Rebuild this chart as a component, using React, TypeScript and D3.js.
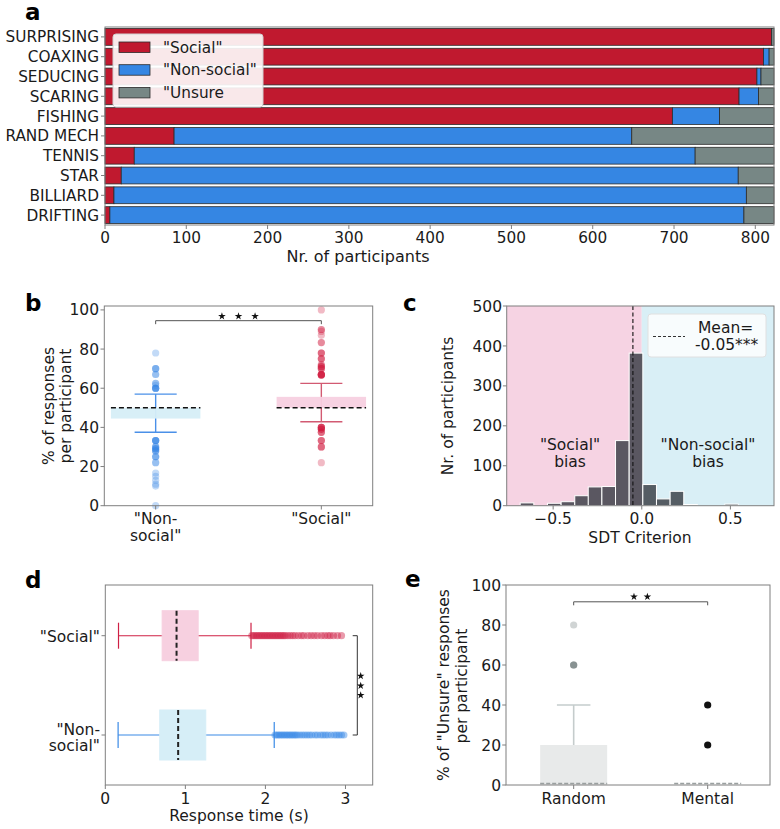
import React from "react";
import * as d3 from "d3";

// ---------- Panel a data ----------
const scenarios = ["SURPRISING", "COAXING", "SEDUCING", "SCARING", "FISHING", "RAND MECH", "TENNIS", "STAR", "BILLIARD", "DRIFTING"];
const socialCounts = [820, 810, 802, 780, 698, 85, 36, 20, 11, 6];
const nonSocialCounts = [0, 7, 5, 24, 58, 563, 690, 759, 778, 780];
const unsureCounts = [3, 6, 16, 19, 67, 175, 97, 44, 34, 37];
const aTicks = [0, 100, 200, 300, 400, 500, 600, 700, 800];

// ---------- Panel b data ----------
const bCategories = ['"Non-social"', '"Social"'];
const bQ1 = [44.5, 50];
const bMedian = [50, 50];
const bQ3 = [50, 55.6];
const bWhiskLo = [37.5, 42.9];
const bWhiskHi = [57, 62.5];
const bOutNonSocialVals = [78, 70, 67, 62.5, 61.5, 60, 33.3, 30, 29, 28, 25, 22, 16.7, 15, 13, 11, 10, 0];
const bOutNonSocialN = [1, 3, 2, 2, 1, 5, 5, 3, 3, 3, 3, 2, 1, 1, 1, 1, 1, 1];
const bOutSocialVals = [100, 90, 89, 87, 83.3, 78, 75, 72, 71, 70, 67, 66.7, 40, 39, 37.5, 33.3, 30, 22];
const bOutSocialN = [1, 2, 1, 1, 2, 3, 3, 2, 3, 3, 4, 4, 5, 3, 3, 3, 3, 1];
const bTicks = [0, 20, 40, 60, 80, 100];

// ---------- Panel c data ----------
const sdtBinStart = [-0.686, -0.609, -0.532, -0.455, -0.378, -0.302, -0.225, -0.148, -0.071, 0.006, 0.083, 0.160, 0.237, 0.314, 0.391, 0.468];
const sdtCounts = [7, 0, 6, 10, 25, 47, 48, 163, 382, 53, 17, 36, 3, 0, 0, 4];
const sdtBinWidth = 0.0769;
const sdtMean = -0.05;
const cYTicks = [0, 100, 200, 300, 400, 500];
const cXTicks = [-0.5, 0, 0.5];

// ---------- Panel d data ----------
const dCategories = ['"Social"', '"Non-social"'];
const dQ1 = [0.71, 0.68];
const dMedian = [0.89, 0.91];
const dQ3 = [1.16, 1.255];
const dWhiskLo = [0.165, 0.16];
const dWhiskHi = [1.82, 2.11];
const dOutSocial = [1.83, 1.85, 1.87, 1.89, 1.91, 1.93, 1.95, 1.97, 1.99, 2.01, 2.03, 2.05, 2.07, 2.09, 2.11, 2.13, 2.15, 2.17, 2.19, 2.21, 2.23, 2.25, 2.28, 2.31, 2.34, 2.37, 2.41, 2.45, 2.48, 2.53, 2.57, 2.61, 2.65, 2.70, 2.74, 2.78, 2.81, 2.85, 2.90, 2.95];
const dOutNonSocial = [2.12, 2.14, 2.16, 2.18, 2.20, 2.22, 2.24, 2.26, 2.28, 2.30, 2.32, 2.34, 2.36, 2.38, 2.40, 2.43, 2.46, 2.49, 2.52, 2.55, 2.58, 2.62, 2.65, 2.69, 2.72, 2.75, 2.78, 2.82, 2.86, 2.89, 2.92, 2.95, 2.98];
const dTicks = [0, 1, 2, 3];

// ---------- Panel e data ----------
const eCategories = ["Random", "Mental"];
const eQ1 = [0, 0];
const eMedian = [0, 0];
const eQ3 = [20, 0];
const eWhiskHi = [40, 0];
const eOutRandomVals = [80, 60];
const eOutRandomN = [1, 4];
const eOutMentalVals = [40, 20];
const eTicks = [0, 20, 40, 60, 80, 100];

const FONT = "DejaVu Sans, Liberation Sans, sans-serif";
const FRAME = "#7f7f7f";
const TXT = "#1a1a1a";

const RED = "#c0192f";
const BLUE = "#3586e3";
const GRAY = "#778785";

function Star({ x, y, size = 22 }: { x: number; y: number; size?: number }) {
  const p = d3.symbol().type(d3.symbolStar).size(size)();
  return <path d={p || ""} transform={`translate(${x},${y})`} fill="#111" />;
}

function PanelA() {
  const x = d3.scaleLinear().domain([0, 823]).range([105, 774]);
  const y = d3.scaleBand().domain(scenarios).range([27, 225]).paddingInner(0.15).paddingOuter(0.075);
  const series = [
    { name: '"Social"', vals: socialCounts, color: RED },
    { name: '"Non-social"', vals: nonSocialCounts, color: BLUE },
    { name: '"Unsure', vals: unsureCounts, color: GRAY },
  ];
  const bars: JSX.Element[] = [];
  scenarios.forEach((s, i) => {
    let acc = 0;
    series.forEach((se, k) => {
      const v = se.vals[i];
      if (v > 0) {
        bars.push(
          <rect key={`${s}-${k}`} x={x(acc)} y={y(s)} width={x(acc + v) - x(acc)} height={y.bandwidth()}
            fill={se.color} stroke="#2b2b2b" strokeWidth={0.8} />
        );
      }
      acc += v;
    });
  });
  return (
    <g>
      <text x={25} y={19.5} fontSize={23} fontWeight="bold" fontFamily={FONT} fill="#000">a</text>
      {bars}
      <rect x={105} y={27} width={669} height={198} fill="none" stroke={FRAME} strokeWidth={1} />
      {scenarios.map((s) => (
        <g key={s}>
          <line x1={101} x2={105} y1={(y(s) || 0) + y.bandwidth() / 2} y2={(y(s) || 0) + y.bandwidth() / 2} stroke={FRAME} />
          <text x={99} y={(y(s) || 0) + y.bandwidth() / 2} dy="0.36em" textAnchor="end" fontSize={15.3} fontFamily={FONT} fill={TXT}>{s}</text>
        </g>
      ))}
      {aTicks.map((t) => (
        <g key={t}>
          <line x1={x(t)} x2={x(t)} y1={225} y2={229} stroke={FRAME} />
          <text x={x(t)} y={242.5} textAnchor="middle" fontSize={15.3} fontFamily={FONT} fill={TXT}>{t}</text>
        </g>
      ))}
      <text x={358} y={262} textAnchor="middle" fontSize={16} fontFamily={FONT} fill={TXT}>Nr. of participants</text>
      <rect x={113} y={34} width={150} height={73} rx={3} fill="#fff" fillOpacity={0.9} stroke="#d0d0d0" />
      {series.map((se, k) => (
        <g key={se.name}>
          <rect x={119} y={42 + k * 22.7} width={31} height={10.5} fill={se.color} stroke="#2b2b2b" strokeWidth={0.8} />
          <text x={163} y={47 + k * 22.7} dy="0.36em" fontSize={15.3} fontFamily={FONT} fill={TXT}>{se.name}</text>
        </g>
      ))}
    </g>
  );
}

function BoxDots({ cx, vals, ns, y, color, alpha }: { cx: number; vals: number[]; ns: number[]; y: (v: number) => number; color: string; alpha: number }) {
  const out: JSX.Element[] = [];
  vals.forEach((v, i) => {
    for (let j = 0; j < ns[i]; j++) {
      out.push(<circle key={`${i}-${j}`} cx={cx} cy={y(v)} r={3.6} fill={color} fillOpacity={alpha} />);
    }
  });
  return <g>{out}</g>;
}

function PanelB() {
  const x = d3.scaleLinear().domain([-0.31, 1.31]).range([104.3, 372.7]);
  const y = d3.scaleLinear().domain([0, 102]).range([505.7, 306]);
  const boxFill = ["#d6eef7", "#f7d0e0"];
  const whisk = ["#4a90e8", "#d25a72"];
  const dotCol = ["#3586e3", "#d0193f"];
  const hw = 0.27;
  const cw = 0.127;
  return (
    <g>
      <text x={25} y={311} fontSize={23} fontWeight="bold" fontFamily={FONT} fill="#000">b</text>
      {bCategories.map((c, i) => (
        <g key={c}>
          <line x1={x(i)} x2={x(i)} y1={y(bWhiskLo[i])} y2={y(bWhiskHi[i])} stroke={whisk[i]} strokeWidth={1.4} />
          <rect x={x(i - hw)} y={y(bQ3[i])} width={x(i + hw) - x(i - hw)} height={y(bQ1[i]) - y(bQ3[i])} fill={boxFill[i]} fillOpacity={0.95} />
          <line x1={x(i - cw)} x2={x(i + cw)} y1={y(bWhiskLo[i])} y2={y(bWhiskLo[i])} stroke={whisk[i]} strokeWidth={1.4} />
          <line x1={x(i - cw)} x2={x(i + cw)} y1={y(bWhiskHi[i])} y2={y(bWhiskHi[i])} stroke={whisk[i]} strokeWidth={1.4} />
          <line x1={x(i - hw)} x2={x(i + hw)} y1={y(bMedian[i])} y2={y(bMedian[i])} stroke="#111" strokeWidth={1.6} strokeDasharray="5,3" />
        </g>
      ))}
      <BoxDots cx={x(0)} vals={bOutNonSocialVals} ns={bOutNonSocialN} y={y} color={dotCol[0]} alpha={0.3} />
      <BoxDots cx={x(1)} vals={bOutSocialVals} ns={bOutSocialN} y={y} color={dotCol[1]} alpha={0.3} />
      <path d={`M${x(0)},${y(94.5) + 3.5}V${y(94.5)}H${x(1)}V${y(94.5) + 3.5}`} fill="none" stroke="#555" strokeWidth={1} />
      {[0.4, 0.5, 0.6].map((f) => <Star key={f} x={x(f)} y={y(94.5) - 4.5} size={18} />)}
      <rect x={104.3} y={306} width={268.4} height={199.7} fill="none" stroke={FRAME} />
      {bTicks.map((t) => (
        <g key={t}>
          <line x1={100.5} x2={104.3} y1={y(t)} y2={y(t)} stroke={FRAME} />
          <text x={99} y={y(t)} dy="0.36em" textAnchor="end" fontSize={15.5} fontFamily={FONT} fill={TXT}>{t}</text>
        </g>
      ))}
      {[0, 1].map((i) => <line key={i} x1={x(i)} x2={x(i)} y1={505.7} y2={509.5} stroke={FRAME} />)}
      <text x={x(0)} y={518} dy="0.36em" textAnchor="middle" fontSize={15.5} fontFamily={FONT} fill={TXT}>"Non-</text>
      <text x={x(0)} y={535} dy="0.36em" textAnchor="middle" fontSize={15.5} fontFamily={FONT} fill={TXT}>social"</text>
      <text x={x(1)} y={518} dy="0.36em" textAnchor="middle" fontSize={15.5} fontFamily={FONT} fill={TXT}>"Social"</text>
      <g transform="translate(48,406) rotate(-90)">
        <text x={0} y={0} dy="0.36em" textAnchor="middle" fontSize={15.5} fontFamily={FONT} fill={TXT}>% of responses</text>
      </g>
      <g transform="translate(65,406) rotate(-90)">
        <text x={0} y={0} dy="0.36em" textAnchor="middle" fontSize={15.5} fontFamily={FONT} fill={TXT}>per participant</text>
      </g>
    </g>
  );
}

function PanelC() {
  const x = d3.scaleLinear().domain([-0.762, 0.746]).range([506.7, 774]);
  const y = d3.scaleLinear().domain([0, 500]).range([505.7, 306]);
  return (
    <g>
      <text x={403} y={311} fontSize={23} fontWeight="bold" fontFamily={FONT} fill="#000">c</text>
      <rect x={506.7} y={306} width={x(0) - 506.7} height={199.7} fill="#f6d3e3" />
      <rect x={x(0)} y={306} width={774 - x(0)} height={199.7} fill="#d9eff6" />
      {sdtCounts.map((c, i) => c > 0 ? (
        <rect key={i} x={x(sdtBinStart[i])} y={y(c)} width={x(sdtBinStart[i] + sdtBinWidth) - x(sdtBinStart[i])} height={y(0) - y(c)}
          fill="#333840" fillOpacity={0.8} stroke="#fff" strokeWidth={1} />
      ) : null)}
      <line x1={x(sdtMean)} x2={x(sdtMean)} y1={306} y2={505.7} stroke="#111" strokeWidth={1.1} strokeDasharray="4,2.5" />
      <text x={570} y={444} dy="0.36em" textAnchor="middle" fontSize={15.5} fontFamily={FONT} fill={TXT}>"Social"</text>
      <text x={570} y={461} dy="0.36em" textAnchor="middle" fontSize={15.5} fontFamily={FONT} fill={TXT}>bias</text>
      <text x={708} y={444} dy="0.36em" textAnchor="middle" fontSize={15.5} fontFamily={FONT} fill={TXT}>"Non-social"</text>
      <text x={708} y={461} dy="0.36em" textAnchor="middle" fontSize={15.5} fontFamily={FONT} fill={TXT}>bias</text>
      <rect x={648} y={314} width={118} height={43} rx={3} fill="#fff" fillOpacity={0.8} stroke="#e0e0e0" />
      <line x1={653} x2={685} y1={336.5} y2={336.5} stroke="#333" strokeWidth={1.1} strokeDasharray="3,2" />
      <text x={698} y={327} dy="0.36em" fontSize={15.5} fontFamily={FONT} fill={TXT}>Mean=</text>
      <text x={695} y={344} dy="0.36em" fontSize={15.5} fontFamily={FONT} fill={TXT}>-0.05***</text>
      <rect x={506.7} y={306} width={267.3} height={199.7} fill="none" stroke={FRAME} />
      {cYTicks.map((t) => (
        <g key={t}>
          <line x1={502.9} x2={506.7} y1={y(t)} y2={y(t)} stroke={FRAME} />
          <text x={502} y={y(t)} dy="0.36em" textAnchor="end" fontSize={15.5} fontFamily={FONT} fill={TXT}>{t}</text>
        </g>
      ))}
      {cXTicks.map((t) => (
        <g key={t}>
          <line x1={x(t)} x2={x(t)} y1={505.7} y2={509.5} stroke={FRAME} />
          <text x={x(t)} y={518} dy="0.36em" textAnchor="middle" fontSize={15.5} fontFamily={FONT} fill={TXT}>{t === 0 ? "0.0" : (t < 0 ? "\u2212" : "") + Math.abs(t).toFixed(1)}</text>
        </g>
      ))}
      <text x={640} y={537} dy="0.36em" textAnchor="middle" fontSize={15.5} fontFamily={FONT} fill={TXT}>SDT Criterion</text>
      <g transform="translate(447,406) rotate(-90)">
        <text x={0} y={0} dy="0.36em" textAnchor="middle" fontSize={15.5} fontFamily={FONT} fill={TXT}>Nr. of participants</text>
      </g>
    </g>
  );
}

function PanelD() {
  const x = d3.scaleLinear().domain([0, 3.34]).range([105.3, 372.7]);
  const y = d3.scalePoint().domain(dCategories).range([635.7, 735]);
  const boxFill = ["#f7d0e0", "#d6eef7"];
  const col = ["#cf2044", "#3a8ae6"];
  const outs = [dOutSocial, dOutNonSocial];
  const bh = 25;
  const ch = 13;
  return (
    <g>
      <text x={25} y={588} fontSize={23} fontWeight="bold" fontFamily={FONT} fill="#000">d</text>
      {dCategories.map((c, i) => {
        const cy = y(c) || 0;
        return (
          <g key={c}>
            <line x1={x(dWhiskLo[i])} x2={x(dWhiskHi[i])} y1={cy} y2={cy} stroke={col[i]} strokeWidth={1.1} />
            <rect x={x(dQ1[i])} y={cy - bh} width={x(dQ3[i]) - x(dQ1[i])} height={bh * 2} fill={boxFill[i]} stroke={boxFill[i]} />
            <line x1={x(dWhiskLo[i])} x2={x(dWhiskLo[i])} y1={cy - ch} y2={cy + ch} stroke={col[i]} strokeWidth={1.2} />
            <line x1={x(dWhiskHi[i])} x2={x(dWhiskHi[i])} y1={cy - ch} y2={cy + ch} stroke={col[i]} strokeWidth={1.2} />
            <line x1={x(dMedian[i])} x2={x(dMedian[i])} y1={cy - bh} y2={cy + bh} stroke="#222" strokeWidth={2} strokeDasharray="5,3" />
            {outs[i].map((v, k) => <circle key={k} cx={x(v)} cy={cy} r={3.6} fill={col[i]} fillOpacity={0.45} />)}
          </g>
        );
      })}
      <path d={`M352.7,635.7H357.3V735H352.7`} fill="none" stroke="#333" strokeWidth={1} />
      {[676, 685.7, 695.3].map((sy) => <Star key={sy} x={360.7} y={sy} size={18} />)}
      <rect x={105.3} y={585} width={267.4} height={200} fill="none" stroke={FRAME} />
      {dTicks.map((t) => (
        <g key={t}>
          <line x1={x(t)} x2={x(t)} y1={785} y2={789} stroke={FRAME} />
          <text x={x(t)} y={798} dy="0.36em" textAnchor="middle" fontSize={15.5} fontFamily={FONT} fill={TXT}>{t}</text>
        </g>
      ))}
      <text x={239} y={815} dy="0.36em" textAnchor="middle" fontSize={15.5} fontFamily={FONT} fill={TXT}>Response time (s)</text>
      {dCategories.map((c) => <line key={c} x1={101.5} x2={105.3} y1={y(c) || 0} y2={y(c) || 0} stroke={FRAME} />)}
      <text x={100} y={636} dy="0.36em" textAnchor="end" fontSize={15.5} fontFamily={FONT} fill={TXT}>"Social"</text>
      <text x={100} y={729.3} dy="0.36em" textAnchor="end" fontSize={15.5} fontFamily={FONT} fill={TXT}>"Non-</text>
      <text x={100} y={745.7} dy="0.36em" textAnchor="end" fontSize={15.5} fontFamily={FONT} fill={TXT}>social"</text>
    </g>
  );
}

function PanelE() {
  const x = d3.scaleLinear().domain([-0.505, 1.465]).range([506, 770]);
  const y = d3.scaleLinear().domain([0, 100]).range([785, 585]);
  const hw = 0.25;
  const cw = 0.125;
  return (
    <g>
      <text x={405} y={587} fontSize={23} fontWeight="bold" fontFamily={FONT} fill="#000">e</text>
      <line x1={x(0)} x2={x(0)} y1={y(eQ3[0])} y2={y(eWhiskHi[0])} stroke="#c5cccc" strokeWidth={1.6} />
      <line x1={x(-cw)} x2={x(cw)} y1={y(eWhiskHi[0])} y2={y(eWhiskHi[0])} stroke="#c5cccc" strokeWidth={1.6} />
      <rect x={x(-hw)} y={y(eQ3[0])} width={x(hw) - x(-hw)} height={y(eQ1[0]) - y(eQ3[0])} fill="#e8eaea" />
      {eCategories.map((c, i) => (
        <line key={c} x1={x(i - hw)} x2={x(i + hw)} y1={y(eMedian[i]) - 1.5} y2={y(eMedian[i]) - 1.5} stroke="#9aa0a0" strokeWidth={1.4} strokeDasharray="4,2" />
      ))}
      <BoxDots cx={x(0)} vals={eOutRandomVals} ns={eOutRandomN} y={y} color="#647070" alpha={0.3} />
      {eOutMentalVals.map((v) => <circle key={v} cx={x(1)} cy={y(v)} r={3.6} fill="#111" />)}
      <path d={`M${x(0)},${y(91.6) + 3.5}V${y(91.6)}H${x(1)}V${y(91.6) + 3.5}`} fill="none" stroke="#555" strokeWidth={1} />
      {[0.45, 0.55].map((f) => <Star key={f} x={x(f)} y={y(91.6) - 5} size={18} />)}
      <rect x={506} y={585} width={264} height={200} fill="none" stroke={FRAME} />
      {eTicks.map((t) => (
        <g key={t}>
          <line x1={502.2} x2={506} y1={y(t)} y2={y(t)} stroke={FRAME} />
          <text x={501} y={y(t)} dy="0.36em" textAnchor="end" fontSize={15.5} fontFamily={FONT} fill={TXT}>{t}</text>
        </g>
      ))}
      {eCategories.map((c, i) => (
        <g key={c}>
          <line x1={x(i)} x2={x(i)} y1={785} y2={789} stroke={FRAME} />
          <text x={x(i)} y={798} dy="0.36em" textAnchor="middle" fontSize={15.5} fontFamily={FONT} fill={TXT}>{c}</text>
        </g>
      ))}
      <g transform="translate(443,685) rotate(-90)">
        <text x={0} y={0} dy="0.36em" textAnchor="middle" fontSize={15.5} fontFamily={FONT} fill={TXT}>% of "Unsure" responses</text>
      </g>
      <g transform="translate(461.5,686) rotate(-90)">
        <text x={0} y={0} dy="0.36em" textAnchor="middle" fontSize={15.5} fontFamily={FONT} fill={TXT}>per participant</text>
      </g>
    </g>
  );
}

export default function App() {
  return (
    <svg width={780} height={829} viewBox="0 0 780 829" style={{ position: "absolute", left: 0, top: 0, display: "block", background: "#fff" }}>
      <rect x={0} y={0} width={780} height={829} fill="#fff" />
      <PanelA />
      <PanelB />
      <PanelC />
      <PanelD />
      <PanelE />
    </svg>
  );
}
